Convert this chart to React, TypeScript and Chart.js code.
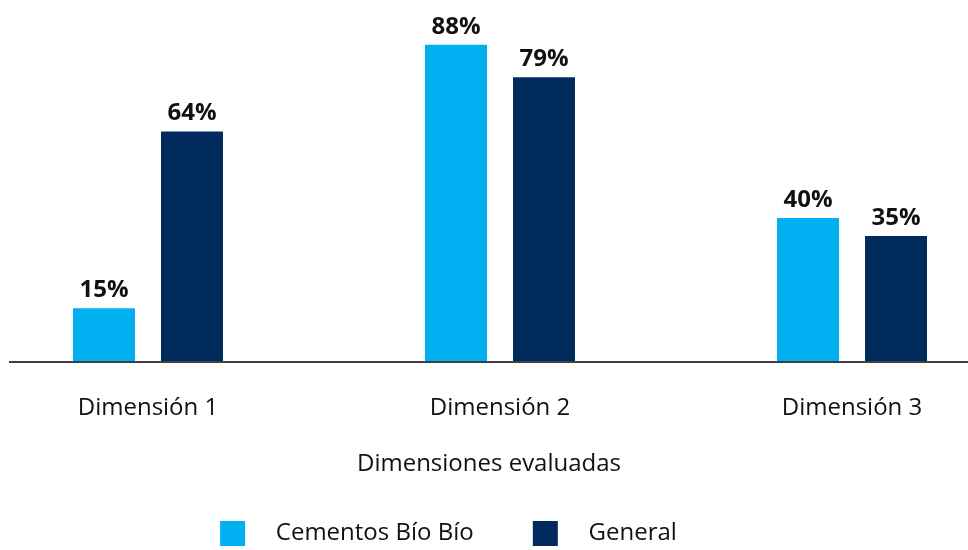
import React, { useEffect, useRef } from 'react';
import { Chart, registerables } from 'chart.js';

Chart.register(...registerables);

const categories = ['Dimensión 1', 'Dimensión 2', 'Dimensión 3'];
const categoryPositions = [1, 2, 3];
const seriesNames = ['Cementos Bío Bío', 'General'];
const cementosValues = [15, 88, 40];
const generalValues = [64, 79, 35];
const axisTitle = 'Dimensiones evaluadas';
const seriesColors = ['#00B0F0', '#002B5C'];

const FONT = '"Open Sans", "Noto Sans", sans-serif';

const valueLabelPlugin = {
  id: 'valueLabels',
  afterDatasetsDraw(chart: any) {
    const ctx = chart.ctx;
    ctx.save();
    ctx.font = `bold 24px ${FONT}`;
    ctx.fillStyle = '#111111';
    ctx.textAlign = 'center';
    ctx.textBaseline = 'alphabetic';
    chart.data.datasets.forEach((ds: any, di: number) => {
      const meta = chart.getDatasetMeta(di);
      meta.data.forEach((bar: any, i: number) => {
        ctx.fillText(`${ds.data[i].y}%`, bar.x, bar.y - 11);
      });
    });
    ctx.restore();
  },
};

export default function App() {
  const canvasRef = useRef<HTMLCanvasElement | null>(null);

  useEffect(() => {
    document.body.style.margin = '0';
    const canvas = canvasRef.current;
    if (!canvas) return;
    const seriesValues = [cementosValues, generalValues];
    const chart = new Chart(canvas, {
      type: 'bar',
      data: {
        datasets: seriesNames.map((name, s) => ({
          label: name,
          data: categoryPositions.map((x, i) => ({ x, y: seriesValues[s][i] })),
          backgroundColor: seriesColors[s],
          borderWidth: 0,
          categoryPercentage: 0.5,
          barPercentage: 0.7045,
        })),
      },
      options: {
        animation: false,
        responsive: true,
        maintainAspectRatio: false,
        layout: { padding: { top: 16, left: 10, right: 0, bottom: -6 } },
        font: { family: FONT },
        scales: {
          x: {
            type: 'linear',
            min: 0.608,
            max: 3.3295,
            offset: false,
            afterBuildTicks: (axis: any) => {
              axis.ticks = categoryPositions.map((v) => ({ value: v }));
            },
            grid: { display: false },
            border: { display: true, color: '#404040', width: 2, z: 1 },
            ticks: {
              autoSkip: false,
              maxRotation: 0,
              padding: 23,
              color: '#111111',
              font: { family: FONT, size: 24 },
              callback: (v: any) => {
                const idx = categoryPositions.indexOf(Number(v));
                return idx >= 0 ? categories[idx] : '';
              },
            },
            title: {
              display: true,
              text: axisTitle,
              color: '#111111',
              font: { family: FONT, size: 24 },
              padding: { top: 5, bottom: 39 },
            },
          },
          y: {
            display: false,
            min: 0,
            max: 96,
          },
        },
        plugins: {
          legend: {
            position: 'bottom',
            labels: {
              boxWidth: 25,
              boxHeight: 25,
              padding: 3,
              color: '#111111',
              font: { family: FONT, size: 24 },
              generateLabels: (chart: any) => {
                const items = Chart.defaults.plugins.legend.labels.generateLabels(chart);
                return items.map((it: any, i: number) => ({
                  ...it,
                  text: '   ' + it.text + (i === 0 ? '         ' : '             '),
                  lineWidth: 0,
                }));
              },
            },
          },
          tooltip: { enabled: false },
        },
      },
      plugins: [valueLabelPlugin],
    } as any);
    return () => chart.destroy();
  }, []);

  return (
    <div style={{ position: 'relative', width: '968px', height: '550px' }}>
      <canvas ref={canvasRef} />
    </div>
  );
}
